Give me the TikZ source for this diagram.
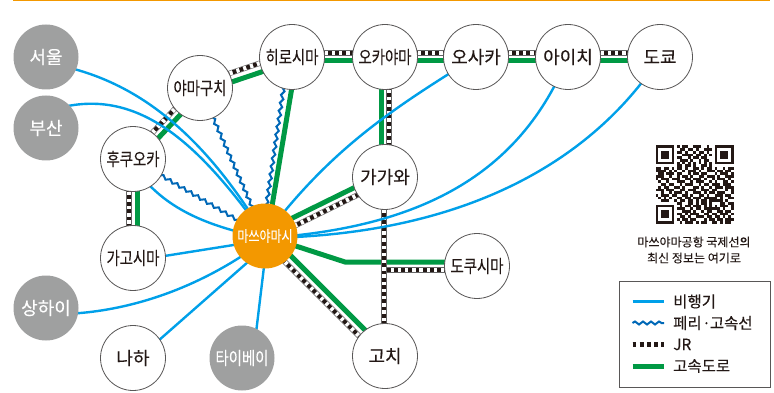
\documentclass[tikz,border=0pt]{standalone}
\usepackage{fontspec}
\setmainfont[FakeBold=0.2]{Noto Sans CJK KR}
\usetikzlibrary{calc,decorations.pathmorphing}
\pgfdeclarelayer{bg}
\pgfsetlayers{bg,main}
\definecolor{ink}{HTML}{231815}
\definecolor{orangeA}{HTML}{F39800}
\definecolor{greyA}{HTML}{9FA0A0}
\definecolor{skyA}{HTML}{00A0E9}
\definecolor{greenA}{HTML}{009944}
\definecolor{ferryA}{HTML}{0068B7}
\definecolor{rimA}{HTML}{595757}
\newcommand\fsz[1]{\fontsize{#1}{#1}\selectfont}
\newcommand\nar[1]{\scalebox{.8}[1]{#1}}
\newcount\qcol \newcount\qrow
\def\qrline#1{\ifx#1e\else\ifx#11\fill[ink] ({655.5+\the\qcol*2.69},{145.5+\the\qrow*2.69}) rectangle ++(2.72,2.72);\fi\advance\qcol by 1 \expandafter\qrline\fi}
\newcommand\qr[1]{\qcol=0 \qrline#1e\advance\qrow by 1 }
\tikzset{
  x=1pt,y=-1pt,
  city/.style={circle,draw=rimA,line width=.8pt,fill=white,minimum size=65pt,inner sep=0pt,text=ink,font=\fsz{18}},
  abroad/.style={circle,fill=greyA,minimum size=65pt,inner sep=0pt,text=white,font=\fsz{18}},
  hub/.style={circle,fill=orangeA,minimum size=65pt,inner sep=0pt,text=white,font=\fsz{15}},
  air/.style={draw=skyA,line width=2.4pt},
  ferry/.style={draw=ferryA,line width=2pt,decorate,decoration={snake,segment length=8pt,amplitude=1.5pt}},
  road/.style={draw=greenA,line width=5pt},
  jr/.style={preaction={draw=black!60,line width=5.4pt,solid},preaction={draw=white,line width=4.2pt,solid},draw=ink,line width=4.2pt,dash pattern=on 3.8pt off 3.4pt},
  lab/.style={anchor=west,inner sep=0pt,text=ink,font=\fsz{15.5}},
}
\begin{document}
\begin{tikzpicture}
\useasboundingbox (0,0) rectangle (774,393);
\coordinate (ruleL) at (13,0.5);
\coordinate (ruleR) at (770,0.5);
\draw[orangeA,line width=1.8pt] (ruleL) -- (ruleR);

\node[abroad] (seoul) at (46,57) {서울};
\node[abroad] (busan) at (46,128) {부산};
\node[abroad] (shanghai) at (46,308) {상하이};
\node[abroad] (taipei) at (242,358) {\nar{타이베이}};
\node[city] (yamaguchi) at (200,88) {\nar{야마구치}};
\node[city] (hiroshima) at (292,57) {\nar{히로시마}};
\node[city] (okayama) at (385,57) {\nar{오카야마}};
\node[city] (osaka) at (476,57) {오사카};
\node[city] (aichi) at (568,57) {아이치};
\node[city] (tokyo) at (660,57) {도쿄};
\node[city] (fukuoka) at (133,159) {\nar{후쿠오카}};
\node[city] (kagoshima) at (133,258) {\nar{가고시마}};
\node[city] (kagawa) at (385,177) {가가와};
\node[city] (tokushima) at (477,266) {\nar{도쿠시마}};
\node[city] (kochi) at (385,356) {고치};
\node[city] (naha) at (133,358) {나하};
\node[hub] (matsu) at (265,236) {\nar{마쓰야마시}};

\begin{pgfonlayer}{bg}
% expressway
\draw[road] ($(yamaguchi)+(1.4,4.2)$) -- ($(hiroshima)+(1.4,4.2)$);
\draw[road] ($(hiroshima)+(0,4)$) -- ($(okayama)+(0,4)$);
\draw[road] ($(okayama)+(0,4)$) -- ($(osaka)+(0,4)$);
\draw[road] ($(osaka)+(0,4)$) -- ($(aichi)+(0,4)$);
\draw[road] ($(aichi)+(0,4)$) -- ($(tokyo)+(0,4)$);
\draw[road] ($(fukuoka)+(3,2.7)$) -- ($(yamaguchi)+(3,2.7)$);
\draw[road] ($(fukuoka)+(4,0)$) -- ($(kagoshima)+(4,0)$);
\draw[road] ($(hiroshima)+(5,0)$) -- ($(matsu)+(2,0)$);
\draw[road] ($(okayama)+(-4,0)$) -- ($(kagawa)+(-4,0)$);
\draw[road] ($(matsu)+(0,-4.5)$) -- ($(kagawa)+(0,-4.5)$);
\draw[road] ($(matsu)+(3,-3)$) -- ($(kochi)+(3,-3)$);
\draw[road] (matsu.center) -- (345,262) -- (tokushima.center |- 345,262);
% JR
\draw[jr] ($(yamaguchi)+(-1.4,-4.2)$) -- ($(hiroshima)+(-1.4,-4.2)$);
\draw[jr] ($(hiroshima)+(0,-4)$) -- ($(okayama)+(0,-4)$);
\draw[jr] ($(okayama)+(0,-4)$) -- ($(osaka)+(0,-4)$);
\draw[jr] ($(osaka)+(0,-4)$) -- ($(aichi)+(0,-4)$);
\draw[jr] ($(aichi)+(0,-4)$) -- ($(tokyo)+(0,-4)$);
\draw[jr] ($(fukuoka)+(-2.9,-2.7)$) -- ($(yamaguchi)+(-2.9,-2.7)$);
\draw[jr] ($(fukuoka)+(-4,0)$) -- ($(kagoshima)+(-4,0)$);
\draw[jr] ($(okayama)+(4,0)$) -- ($(kagawa)+(4,0)$);
\draw[jr] ($(matsu)+(0,4.5)$) -- ($(kagawa)+(0,4.5)$);
\draw[jr] ($(matsu)+(-3,3)$) -- ($(kochi)+(-3,3)$);
\draw[jr] ($(tokushima)+(0,4)$) -- (kochi.center |- 0,270);
\draw[jr] ($(kagawa)+(-1,0)$) -- ($(kochi)+(-1,0)$);
% ferry
\draw[ferry] (yamaguchi.center) -- (matsu.center);
\draw[ferry] (fukuoka.center) -- (matsu.center);
\draw[ferry] ($(hiroshima)+(-4,0)$) -- ($(matsu)+(-3,0)$);
% air
\draw[air] ($(seoul)+(0,6)$) .. controls (128,76) and (198,125) .. (matsu.center);
\draw[air] ($(busan)+(0,-16)$) .. controls (136,80) and (200,145) .. (matsu.center);
\draw[air] ($(fukuoka)+(0,6)$) .. controls (160,205) and (200,225) .. ($(matsu)+(0,2)$);
\draw[air] ($(kagoshima)+(0,3)$) -- ($(matsu)+(0,4)$);
\draw[air] ($(shanghai)+(0,6)$) .. controls (110,316) and (190,296) .. ($(matsu)+(0,4)$);
\draw[air] ($(naha)+(0,5)$) -- ($(matsu)+(0,11)$);
\draw[air] ($(taipei)+(11,0)$) -- ($(matsu)+(1,14)$);
\draw[air] (osaka.center) .. controls (390,110) and (330,150) .. (matsu.center);
\draw[air] (aichi.center) .. controls (520,175) and (420,228) .. ($(matsu)+(0,2)$);
\draw[air] (tokyo.center) .. controls (600,150) and (480,235) .. ($(matsu)+(0,2)$);
\end{pgfonlayer}

% QR code
\qr{1111111 0 1011001110010 0 1111111}
\qr{1000001 0 0110110100111 0 1000001}
\qr{1011101 0 1101001011010 0 1011101}
\qr{1011101 0 0011110110101 0 1011101}
\qr{1011101 0 1100101101100 0 1011101}
\qr{1000001 0 0111010010110 0 1000001}
\qr{1111111 0 1010101010101 0 1111111}
\qr{00000000 1101101001101 00000000}
\qr{11011010110100110101101001011}
\qr{11110101001011101001110110110}
\qr{01101110110010110110001011101}
\qr{11100100101101001101110100111}
\qr{10111011100110111010010111010}
\qr{01001000111001011100101001101}
\qr{00110110010111001011011101110}
\qr{01011001101000110100101110111}
\qr{11101110011011100111011000101}
\qr{00100101110100111010110111001}
\qr{10111011001101001101001110110}
\qr{01010100110110111011111010011}
\qr{00111001011011010110111110100}
\qr{00000000 1100110101101 00011011}
\qr{1111111 0 0101101110101 01011101}
\qr{1000001 0 1110010110111 11101001}
\qr{1011101 0 0011101001011 00110110}
\qr{1011101 0 1101011100110 11011101}
\qr{1011101 0 0110100111011 01101010}
\qr{1000001 0 1011011000101 10110111}
\qr{1111111 0 0101110101100 11010110}

\node[text=ink,font=\fsz{12},inner sep=0pt] (capA) at (694,242) {마쓰야마공항 국제선의};
\node[text=ink,font=\fsz{12},inner sep=0pt] (capB) at (694,258) {최신 정보는 여기로};

\node[draw=rimA,line width=1pt,minimum width=151pt,minimum height=106pt,inner sep=0pt] (legend) at (694.5,334) {};
\coordinate (aL) at (632.5,301.5); \coordinate (aR) at (664,301.5);
\coordinate (fL) at (632.5,323); \coordinate (fR) at (664,323);
\coordinate (jL) at (632.5,344.5); \coordinate (jR) at (664,344.5);
\coordinate (rL) at (632.5,366); \coordinate (rR) at (664,366);
\draw[air] (aL) -- (aR);
\draw[ferry] (fL) -- (fR);
\draw[jr] (jL) -- (jR);
\draw[road] (rL) -- (rR);
\node[lab] (t1) at (673,301.5) {비행기};
\node[lab] (t2) at (673,323) {페리 \kern-3pt·\kern-1pt 고속선};
\node[lab] (t3) at (673,344.5) {JR};
\node[lab] (t4) at (673,366) {고속도로};
\end{tikzpicture}
\end{document}
